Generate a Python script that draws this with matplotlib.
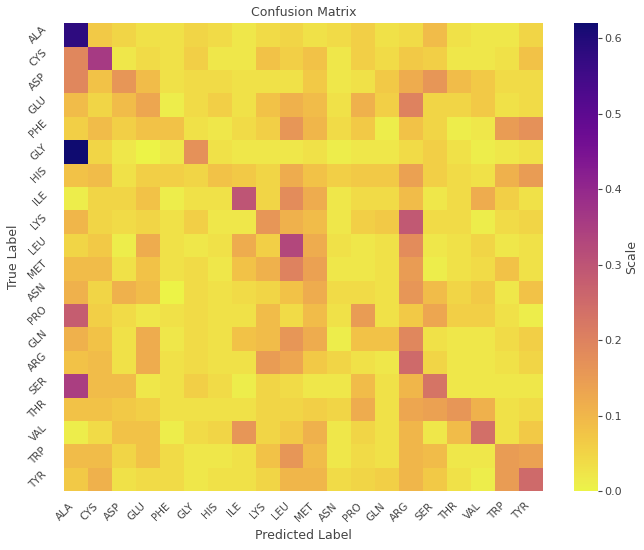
import numpy as np
import matplotlib
matplotlib.use("Agg")
import matplotlib.pyplot as plt
from matplotlib.colors import ListedColormap
import seaborn as sns

residues = ["ALA", "CYS", "ASP", "GLU", "PHE", "GLY", "HIS", "ILE", "LYS", "LEU",
            "MET", "ASN", "PRO", "GLN", "ARG", "SER", "THR", "VAL", "TRP", "TYR"]

# One row per true residue, columns follow the predicted residue order
row_ala = [0.58, 0.07, 0.05, 0.03, 0.03, 0.05, 0.04, 0.02, 0.04, 0.05, 0.03, 0.04, 0.06, 0.03, 0.04, 0.09, 0.03, 0.02, 0.02, 0.05]
row_cys = [0.19, 0.36, 0.02, 0.04, 0.03, 0.06, 0.02, 0.02, 0.08, 0.06, 0.08, 0.02, 0.06, 0.04, 0.07, 0.06, 0.02, 0.02, 0.03, 0.08]
row_asp = [0.19, 0.08, 0.16, 0.09, 0.03, 0.04, 0.04, 0.03, 0.03, 0.03, 0.07, 0.02, 0.03, 0.07, 0.12, 0.16, 0.09, 0.07, 0.04, 0.04]
row_glu = [0.09, 0.05, 0.09, 0.13, 0.01, 0.04, 0.06, 0.03, 0.08, 0.11, 0.09, 0.03, 0.11, 0.06, 0.20, 0.05, 0.05, 0.07, 0.03, 0.04]
row_phe = [0.06, 0.09, 0.06, 0.08, 0.08, 0.03, 0.02, 0.04, 0.06, 0.16, 0.10, 0.04, 0.07, 0.01, 0.08, 0.05, 0.01, 0.02, 0.15, 0.17]
row_gly = [0.62, 0.05, 0.02, 0.00, 0.02, 0.17, 0.03, 0.02, 0.02, 0.02, 0.03, 0.01, 0.02, 0.02, 0.04, 0.06, 0.03, 0.01, 0.02, 0.03]
row_his = [0.08, 0.09, 0.03, 0.06, 0.06, 0.05, 0.08, 0.07, 0.05, 0.12, 0.08, 0.06, 0.07, 0.07, 0.14, 0.06, 0.04, 0.03, 0.11, 0.15]
row_ile = [0.01, 0.05, 0.05, 0.08, 0.01, 0.03, 0.03, 0.30, 0.05, 0.18, 0.12, 0.02, 0.04, 0.04, 0.09, 0.02, 0.04, 0.12, 0.06, 0.03]
row_lys = [0.10, 0.05, 0.04, 0.05, 0.03, 0.06, 0.02, 0.02, 0.16, 0.11, 0.09, 0.02, 0.06, 0.07, 0.29, 0.04, 0.04, 0.01, 0.04, 0.05]
row_leu = [0.05, 0.07, 0.01, 0.12, 0.03, 0.02, 0.03, 0.12, 0.06, 0.33, 0.12, 0.03, 0.02, 0.03, 0.18, 0.02, 0.03, 0.05, 0.02, 0.03]
row_met = [0.09, 0.09, 0.03, 0.08, 0.03, 0.04, 0.02, 0.08, 0.11, 0.20, 0.14, 0.02, 0.02, 0.03, 0.15, 0.01, 0.03, 0.04, 0.08, 0.03]
row_asn = [0.11, 0.05, 0.11, 0.09, 0.00, 0.04, 0.03, 0.04, 0.05, 0.08, 0.12, 0.04, 0.04, 0.03, 0.16, 0.09, 0.05, 0.07, 0.02, 0.08]
row_pro = [0.28, 0.06, 0.04, 0.02, 0.03, 0.04, 0.03, 0.03, 0.09, 0.04, 0.09, 0.03, 0.15, 0.03, 0.07, 0.13, 0.06, 0.06, 0.03, 0.01]
row_gln = [0.11, 0.08, 0.03, 0.12, 0.02, 0.04, 0.03, 0.08, 0.09, 0.16, 0.12, 0.01, 0.08, 0.08, 0.19, 0.03, 0.02, 0.02, 0.04, 0.06]
row_arg = [0.08, 0.09, 0.03, 0.12, 0.03, 0.04, 0.03, 0.03, 0.15, 0.13, 0.07, 0.05, 0.03, 0.02, 0.25, 0.05, 0.02, 0.02, 0.03, 0.05]
row_ser = [0.35, 0.09, 0.09, 0.02, 0.03, 0.06, 0.04, 0.01, 0.05, 0.04, 0.02, 0.02, 0.09, 0.03, 0.10, 0.23, 0.02, 0.02, 0.02, 0.02]
row_thr = [0.08, 0.08, 0.07, 0.06, 0.03, 0.03, 0.03, 0.03, 0.05, 0.05, 0.06, 0.05, 0.12, 0.03, 0.13, 0.14, 0.16, 0.11, 0.03, 0.04]
row_val = [0.01, 0.04, 0.08, 0.08, 0.01, 0.04, 0.05, 0.16, 0.05, 0.07, 0.11, 0.02, 0.05, 0.03, 0.10, 0.02, 0.09, 0.24, 0.03, 0.07]
row_trp = [0.09, 0.09, 0.05, 0.08, 0.04, 0.02, 0.02, 0.03, 0.08, 0.16, 0.09, 0.02, 0.04, 0.03, 0.10, 0.09, 0.02, 0.02, 0.15, 0.14]
row_tyr = [0.07, 0.11, 0.03, 0.04, 0.04, 0.02, 0.03, 0.03, 0.05, 0.10, 0.10, 0.04, 0.05, 0.06, 0.10, 0.07, 0.03, 0.01, 0.15, 0.25]

matrix = np.array([row_ala, row_cys, row_asp, row_glu, row_phe, row_gly, row_his,
                   row_ile, row_lys, row_leu, row_met, row_asn, row_pro, row_gln,
                   row_arg, row_ser, row_thr, row_val, row_trp, row_tyr])

# Softened plasma_r: pull each colour a little towards its own grey level
base = plt.get_cmap("plasma_r")(np.linspace(0, 1, 256))
grey = base[:, :3] @ np.array([0.299, 0.587, 0.114])
soft = base.copy()
soft[:, :3] = 0.8 * base[:, :3] + 0.2 * grey[:, None]
soft_plasma = ListedColormap(soft, name="soft_plasma_r")

sns.set_theme(style="white")
plt.rcParams["font.family"] = ["DejaVu Sans"]
text_color = "#444444"

fig = plt.figure(figsize=(6.44, 5.5), dpi=100)
ax = fig.add_axes([0.0994, 0.107, 0.7437, 0.851])
cax = fig.add_axes([0.891, 0.107, 0.037, 0.851])

sns.heatmap(matrix, ax=ax, cbar_ax=cax, cmap=soft_plasma, vmin=0,
            xticklabels=residues, yticklabels=residues,
            cbar_kws={"label": "Scale"})

ax.set_title("Confusion Matrix", fontsize=9, color=text_color, pad=5)
ax.set_xlabel("Predicted Label", fontsize=9, color=text_color, labelpad=4)
ax.set_ylabel("True Label", fontsize=9, color=text_color, labelpad=4)
ax.tick_params(axis="both", length=0, labelsize=7.5, labelcolor=text_color)
ax.tick_params(axis="x", pad=7)
ax.tick_params(axis="y", pad=11)
plt.setp(ax.get_xticklabels(), rotation=45, ha="right")
plt.setp(ax.get_yticklabels(), rotation=45, ha="right")

cax.tick_params(axis="y", right=True, length=3, width=0.8, color=text_color,
                labelsize=8, labelcolor=text_color, pad=2)
cax.set_yticks([0.0, 0.1, 0.2, 0.3, 0.4, 0.5, 0.6])
cax.set_ylabel("Scale", fontsize=9, color=text_color, labelpad=2)

fig.savefig("out.png", dpi=100)
